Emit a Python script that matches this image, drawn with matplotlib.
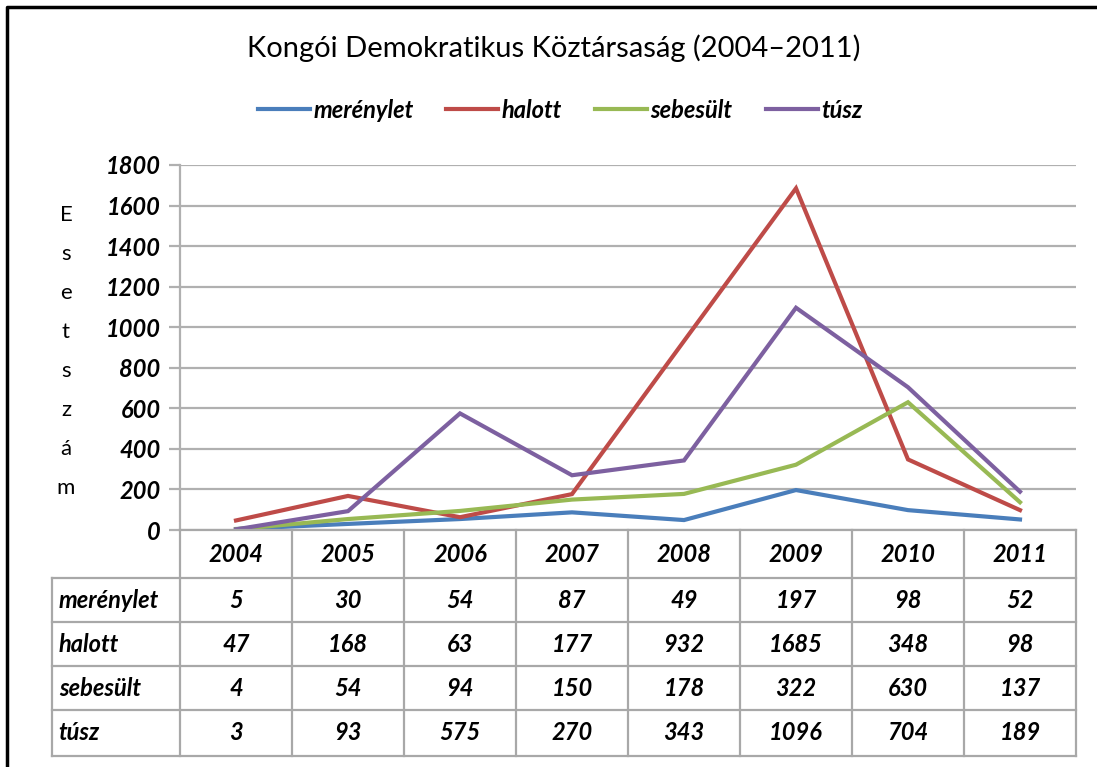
import matplotlib.pyplot as plt
from matplotlib.lines import Line2D
import matplotlib.transforms as mtransforms

plt.rcParams['font.family'] = ['Lato', 'DejaVu Sans']

years = ["2004", "2005", "2006", "2007", "2008", "2009", "2010", "2011"]
series_names = ["merénylet", "halott", "sebesült", "túsz"]
merenylet = [5, 30, 54, 87, 49, 197, 98, 52]
halott = [47, 168, 63, 177, 932, 1685, 348, 98]
sebesult = [4, 54, 94, 150, 178, 322, 630, 137]
tusz = [3, 93, 575, 270, 343, 1096, 704, 189]
colors = ["#4A7EBB", "#BE4B48", "#98B954", "#7D60A0"]
yticks = [0, 200, 400, 600, 800, 1000, 1200, 1400, 1600, 1800]

W, H = 1097, 767
fig = plt.figure(figsize=(W / 100, H / 100), dpi=100)

def fy(py):
    return 1 - py / H

ax = fig.add_axes([180 / W, fy(530), (1076 - 180) / W, (530 - 165) / H])

x = list(range(len(years)))
all_series = [merenylet, halott, sebesult, tusz]
for name, vals, c in zip(series_names, all_series, colors):
    ax.plot(x, vals, color=c, lw=3, label=name, solid_joinstyle="miter", zorder=3)

ax.set_xlim(-0.5, len(years) - 0.5)
ax.set_ylim(0, 1800)
ax.set_yticks(yticks)
ax.set_yticklabels([str(v) for v in yticks], fontsize=17, fontweight="bold", style="italic")
ax.set_xticks([])
ax.grid(axis="y", color="#B0B0B0", lw=1.6)
ax.set_axisbelow(True)
for s in ["top", "right", "bottom"]:
    ax.spines[s].set_visible(False)
ax.spines["left"].set_color("#B0B0B0")
ax.spines["left"].set_linewidth(1.6)
ax.tick_params(axis="y", length=8, width=1.6, color="#B0B0B0", pad=6)

# data table under the plot (x in data units, y in figure pixels)
tr = mtransforms.blended_transform_factory(ax.transData, fig.transFigure)
gray = "#A8A8A8"
row_tops = [530, 578, 622, 666, 710, 756]
xl = -0.5 - (180 - 52) / 112.0
xr = len(years) - 0.5

def hline(x0, x1, py):
    fig.add_artist(Line2D([x0, x1], [fy(py), fy(py)], transform=tr, color=gray, lw=1.6))

def vline(xx, py0, py1):
    fig.add_artist(Line2D([xx, xx], [fy(py0), fy(py1)], transform=tr, color=gray, lw=1.6))

hline(-0.5, xr, 530)
for py in row_tops[1:]:
    hline(xl, xr, py)
for i in range(len(years) + 1):
    vline(i - 0.5, 530, 756)
vline(xl, 578, 756)

tfont = dict(fontsize=17, fontweight="bold", style="italic", ha="center", va="center")
for i, yr in enumerate(years):
    fig.text(i, fy((530 + 578) / 2), yr, transform=tr, **tfont)
for r, (name, vals) in enumerate(zip(series_names, all_series)):
    yc = fy((row_tops[r + 1] + row_tops[r + 2]) / 2)
    fig.text(xl + 0.06, yc, name, transform=tr, fontsize=17, fontweight="bold",
             style="italic", ha="left", va="center")
    for i, v in enumerate(vals):
        fig.text(i, yc, str(v), transform=tr, **tfont)

# vertical y label, one letter per line
label = "Esetszám"
for k, ch in enumerate(label):
    fig.text(66 / W, fy(215 + k * 39), ch, fontsize=16, ha="center", va="center")

fig.text(0.505, fy(48), "Kongói Demokratikus Köztársaság (2004–2011)",
         fontsize=21, ha="center", va="center")

leg = fig.legend(loc="center", bbox_to_anchor=(560 / W, fy(110)), ncol=4, frameon=False,
                 prop=dict(size=17, weight="bold", style="italic"),
                 handlelength=2.2, handletextpad=0.15, columnspacing=1.4)

# frame (left and top edge)
fig.add_artist(Line2D([7 / W, 7 / W, 1], [0, fy(7), fy(7)], color="black", lw=2.5))

fig.savefig("out.png", dpi=100)
